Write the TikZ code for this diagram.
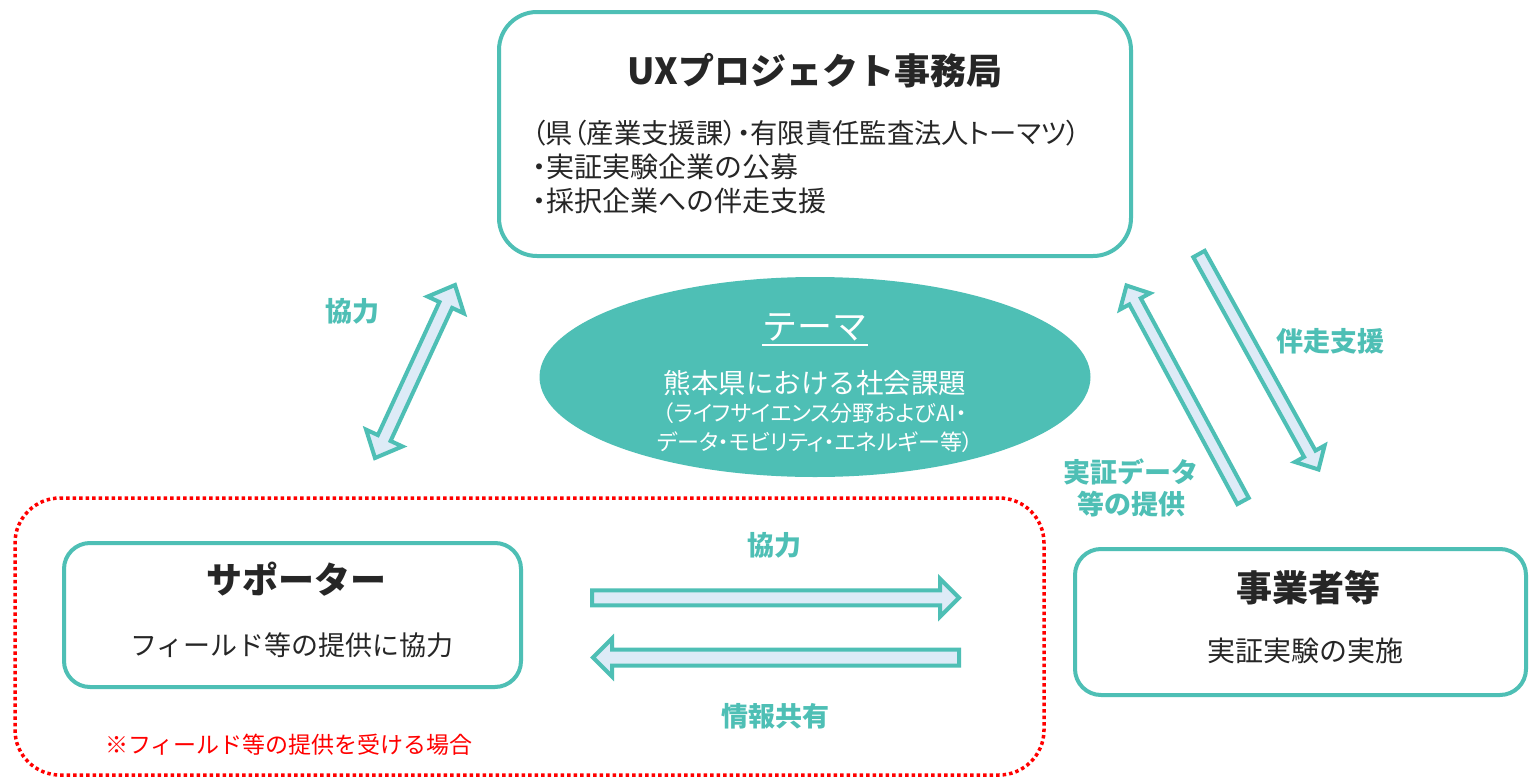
\documentclass[tikz,border=0pt]{standalone}
\usepackage{fontspec}
\setmainfont{Noto Sans CJK JP}
\newfontfamily\jpp[RawFeature=+palt]{Noto Sans CJK JP}
\usetikzlibrary{calc,shapes.geometric}
\definecolor{uxteal}{HTML}{4EBFB5}
\definecolor{uxlight}{HTML}{DDEBF7}
\definecolor{uxred}{HTML}{FF0000}
\definecolor{uxtext}{HTML}{262626}
\tikzset{
  box/.style={draw=uxteal, line width=4pt, rounded corners=#1, fill=white, inner sep=0pt},
  fatarrow/.style={draw=uxteal, line width=4pt, fill=uxlight, line join=miter},
  lab/.style={text=uxteal, font=\bfseries\fontsize{27}{32}\selectfont, inner sep=0pt, align=center},
  ttl/.style={text=uxtext, font=\bfseries\fontsize{36}{40}\selectfont, inner sep=0pt},
  body/.style={text=uxtext, font=\fontsize{27}{34}\selectfont, inner sep=0pt},
}
% single arrow: #1 tail, #2 tip, #3 shaft half width, #4 head half width, #5 head length, #6 style
\newcommand\uxsinglearrow[6]{%
  \coordinate (sa-h) at ($(#2)!#5!(#1)$);
  \draw[#6] ($(#1)!#3!90:(#2)$) -- ($(sa-h)!#3!90:(#2)$) -- ($(sa-h)!#4!90:(#2)$) -- (#2)
    -- ($(sa-h)!#4!-90:(#2)$) -- ($(sa-h)!#3!-90:(#2)$) -- ($(#1)!#3!-90:(#2)$) -- cycle;}
% double arrow: #1 end A, #2 end B
\newcommand\uxdoublearrow[6]{%
  \coordinate (da-ha) at ($(#1)!#5!(#2)$);
  \coordinate (da-hb) at ($(#2)!#5!(#1)$);
  \draw[#6] (#2) -- ($(da-hb)!#4!90:(#2)$) -- ($(da-hb)!#3!90:(#2)$) -- ($(da-ha)!#3!-90:(#1)$)
    -- ($(da-ha)!#4!-90:(#1)$) -- (#1) -- ($(da-ha)!#4!90:(#1)$) -- ($(da-ha)!#3!90:(#1)$)
    -- ($(da-hb)!#3!-90:(#2)$) -- ($(da-hb)!#4!-90:(#2)$) -- cycle;}
\begin{document}
\begin{tikzpicture}[x=1pt, y=-1pt]
\useasboundingbox[fill=white] (0,0) rectangle (1529,779);

% red dotted group
\node[draw=uxred, line width=3.5pt, dash pattern=on 3.5pt off 3pt, rounded corners=45pt,
      minimum width=1029pt, minimum height=277pt, inner sep=0pt] (group) at (529.5,636.5) {};

% boxes
\node[box=38pt, minimum width=632pt, minimum height=244pt] (ux) at (815,134) {};
\node[box=26pt, minimum width=457pt, minimum height=144pt] (sup) at (292.5,615) {};
\node[box=26pt, minimum width=451pt, minimum height=146pt] (biz) at (1300.5,622) {};

% theme ellipse
\node[fill=uxteal, draw=none, ellipse, minimum width=551pt, minimum height=200pt, inner sep=0pt] (theme) at (815,377) {};

% texts in top box
\node[ttl] (uxt) at (815,71) {UXプロジェクト事務局};
\node[body, anchor=west, align=left, font=\fontsize{28}{34}\selectfont] (uxb) at (532,167)
  {{\jpp\fontsize{27.3}{34}\selectfont（県（産業支援課）・有限責任監査法人トーマツ）}\\{\jpp ・}実証実験企業の公募\\{\jpp ・}採択企業への伴走支援};

% texts in theme
\node[text=white, inner sep=0pt, font=\fontsize{35}{40}\selectfont] (tm) at (815,327) {テーマ};
\draw[white, line width=2pt] ([yshift=-4pt]tm.south west) -- ([yshift=-4pt]tm.south east);
\node[text=white, inner sep=0pt, font=\fontsize{27.5}{32}\selectfont] (tm1) at (815,383) {熊本県における社会課題};
\node[text=white, inner sep=0pt, font=\jpp\fontsize{22}{29}\selectfont, align=center] (tm2) at (815,428)
  {（ライフサイエンス分野およびAI・\\データ・モビリティ・エネルギー等）};

% supporter box texts
\node[ttl] (supt) at (296,579) {サポーター};
\node[body] (supb) at (292,645) {フィールド等の提供に協力};
\node[text=uxred, inner sep=0pt, font=\fontsize{23}{28}\selectfont] (note) at (289,745) {※フィールド等の提供を受ける場合};

% business box texts
\node[ttl] (bizt) at (1308,588) {事業者等};
\node[body, font=\fontsize{28}{34}\selectfont] (bizb) at (1305,651) {実証実験の実施};

% arrows
\coordinate (d1a) at (455,285);
\coordinate (d1b) at (375,458);
\uxdoublearrow{d1a}{d1b}{7pt}{20pt}{22pt}{fatarrow}

\coordinate (r1t) at (1199,254);
\coordinate (r1h) at (1318.5,469.5);
\uxsinglearrow{r1t}{r1h}{6.5pt}{17pt}{18pt}{fatarrow}

\coordinate (r2t) at (1243,501);
\coordinate (r2h) at (1126.5,285.5);
\uxsinglearrow{r2t}{r2h}{6.5pt}{17pt}{18pt}{fatarrow}

\coordinate (h1t) at (592,597.8);
\coordinate (h1h) at (959,597.8);
\uxsinglearrow{h1t}{h1h}{7.5pt}{19pt}{19pt}{fatarrow}

\coordinate (h2t) at (959,657.5);
\coordinate (h2h) at (593,657.5);
\uxsinglearrow{h2t}{h2h}{8pt}{19pt}{19pt}{fatarrow}

% arrow labels
\node[lab] (l1) at (352,311) {協力};
\node[lab] (l2) at (1330,341) {伴走支援};
\node[lab] (l3) at (1131,488) {実証データ\\等の提供};
\node[lab] (l4) at (774,545) {協力};
\node[lab] (l5) at (775,716) {情報共有};
\end{tikzpicture}
\end{document}
